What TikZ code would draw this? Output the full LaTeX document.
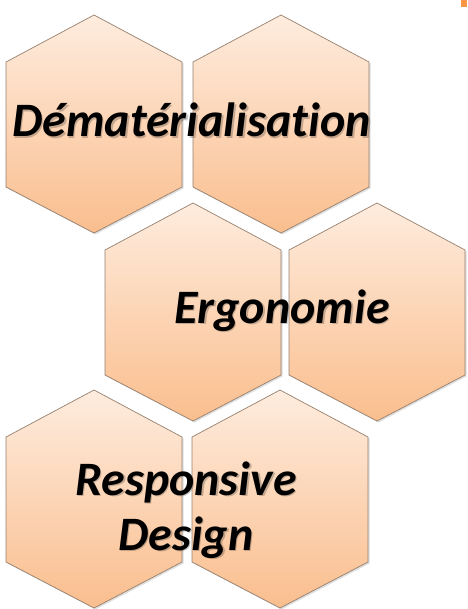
\documentclass[tikz,border=0pt]{standalone}
\usepackage{fontspec}
\setsansfont{Carlito}[Ligatures=NoCommon]
\usetikzlibrary{shadows}
\definecolor{hextop}{RGB}{254,236,222}
\definecolor{hexbottom}{RGB}{250,190,142}
\definecolor{hexline}{RGB}{150,128,110}
\definecolor{tabcolor}{RGB}{247,150,70}
\tikzset{%
  hexcell/.style  = {draw=hexline, line width=0.7pt,%
                     top color=hextop, bottom color=hexbottom,%
                     drop shadow={opacity=0.25, shadow xshift=1.5pt, shadow yshift=-1.5pt}},%
  hextext/.style  = {anchor=base, inner sep=0pt, align=center,%
                     font=\sffamily\bfseries\itshape\fontsize{48}{55}\selectfont},%
  textshadow/.style = {hextext, text=black, opacity=0.22}%
}
% one stretched hexagon, centred at (#1,#2)
\newcommand{\hexcell}[2]{%
  \path[hexcell] (#1,#2) ++(0,-109) -- ++(88,47) -- ++(0,125) -- ++(-88,46)
    -- ++(-88,-46) -- ++(0,-125) -- cycle;}

\begin{document}
\begin{tikzpicture}[x=1pt,y=-1pt]
  \useasboundingbox (0,0) rectangle (467,609);
  % small tab in the corner
  \fill[tabcolor] (461,0) rectangle (467,7);
  % hexagons, two per row
  \hexcell{94}{124}   \hexcell{281}{124}
  \hexcell{193}{312}  \hexcell{377}{312}
  \hexcell{94}{499}   \hexcell{280}{499}
  % texts
  \node[textshadow] at (193,139) {Dématérialisation};
  \node[hextext] (demat) at (191.5,137) {Dématérialisation};
  \node[textshadow] at (283.5,324.5) {Ergonomie};
  \node[hextext] (ergo) at (282,323) {Ergonomie};
  \node[textshadow] at (187.5,551.5) {Responsive\\Design};
  \node[hextext] (resp) at (186,550) {Responsive\\Design};
\end{tikzpicture}
\end{document}
